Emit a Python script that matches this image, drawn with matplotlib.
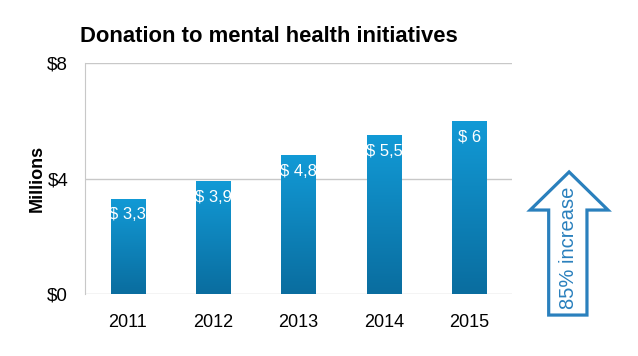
import numpy as np
import matplotlib.pyplot as plt
from matplotlib.patches import Polygon
from matplotlib.colors import LinearSegmentedColormap

plt.rcParams['font.family'] = ['Liberation Sans', 'DejaVu Sans']

years = ['2011', '2012', '2013', '2014', '2015']
donations = [3.3, 3.9, 4.8, 5.5, 6.0]
bar_labels = ['$ 3,3', '$ 3,9', '$ 4,8', '$ 5,5', '$ 6']
yticks = [0, 4, 8]
ytick_labels = ['$0', '$4', '$8']

blue_grad = LinearSegmentedColormap.from_list('bg', ['#0a6d9f', '#129ad6'])
arrow_col = '#2a80bd'

fig = plt.figure(figsize=(6.38, 3.56), dpi=100)
ax = fig.add_axes([0.133, 0.174, 0.67, 0.649])

x = np.arange(len(years))
bars = ax.bar(x, donations, width=0.4, color='none', edgecolor='none', zorder=3)

# gradient fill, clipped to each bar
grad = np.linspace(0, 1, 256).reshape(-1, 1)
for b in bars:
    x0, y0 = b.get_x(), b.get_y()
    w, h = b.get_width(), b.get_height()
    im = ax.imshow(grad, cmap=blue_grad, origin='lower', aspect='auto',
                   extent=[x0, x0 + w, y0, y0 + h], zorder=3)
    im.set_clip_path(b)

for xi, v, lab in zip(x, donations, bar_labels):
    ax.annotate(lab, (xi, v), xytext=(0, -16), textcoords='offset pixels',
                ha='center', va='center', color='white', fontsize=12, zorder=4)

ax.set_xlim(-0.5, len(years) - 0.5)
ax.set_ylim(0, 8)
ax.set_xticks(x)
ax.set_xticklabels(years, fontsize=13)
ax.set_yticks(yticks)
ax.set_yticklabels(ytick_labels, fontsize=13.5)
ax.tick_params(length=0)
ax.tick_params(axis='x', pad=14)
ax.tick_params(axis='y', pad=12)
ax.yaxis.grid(True, color='#c8c8c8', lw=1)
ax.set_axisbelow(True)
for s in ['top', 'right', 'bottom']:
    ax.spines[s].set_visible(False)
ax.spines['left'].set_color('#c8c8c8')
ax.set_ylabel('Millions', fontsize=13, fontweight='bold', labelpad=1)

fig.text(0.125, 0.897, 'Donation to mental health initiatives', fontsize=15.8,
         fontweight='bold', ha='left', va='center')

# "85% increase" arrow
arrow = Polygon([(0.860, 0.115), (0.920, 0.115), (0.920, 0.410), (0.953, 0.410),
                 (0.892, 0.517), (0.831, 0.410), (0.860, 0.410)],
                closed=True, transform=fig.transFigure, facecolor='white',
                edgecolor=arrow_col, lw=2.3, joinstyle='miter')
fig.add_artist(arrow)
fig.text(0.891, 0.305, '85% increase', rotation=90, ha='center', va='center',
         fontsize=14.5, color=arrow_col)

fig.savefig('out.png', dpi=100)
